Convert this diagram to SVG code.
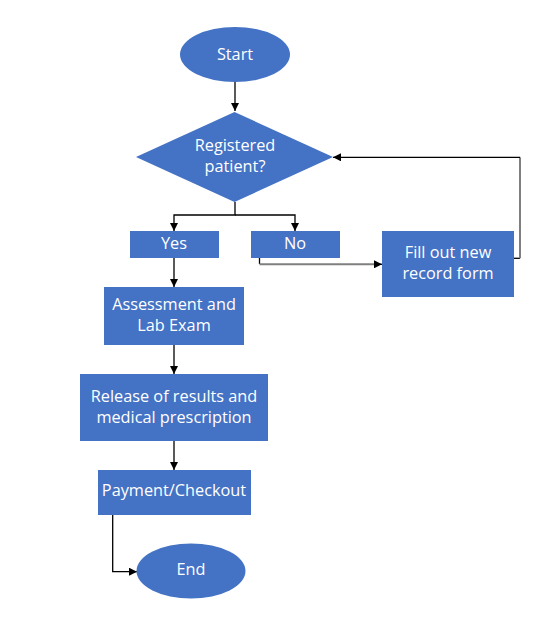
<svg xmlns="http://www.w3.org/2000/svg" width="554" height="638" viewBox="0 0 554 638">
<defs>
<style>
.n{fill:#4472C4;}
.t{fill:#fff;font-family:"Open Sans","Liberation Sans",Arial,sans-serif;font-size:16.3px;text-anchor:middle;}
.c{fill:none;stroke:#000;stroke-width:1.3;}
.g{fill:none;stroke:#7f7f7f;stroke-width:2;}
</style>
<marker id="ah" viewBox="0 0 10 10" refX="10" refY="5" markerWidth="8" markerHeight="8" markerUnits="userSpaceOnUse" orient="auto">
<path d="M0,0 L10,5 L0,10 Z" fill="#000"/>
</marker>
</defs>
<rect width="554" height="638" fill="#fff"/>
<g id="connectors">
<path class="c" d="M235,82 V111" marker-end="url(#ah)"/>
<path class="c" d="M235,202 V215 H174 V231" marker-end="url(#ah)"/>
<path class="c" d="M235,215 H295 V231" marker-end="url(#ah)"/>
<path class="c" d="M259.5,258 V264"/>
<path class="g" d="M259.5,264.3 H376"/>
<path class="c" d="M375,264.3 H382" marker-end="url(#ah)"/>
<path class="c" d="M514,258.3 H520"/>
<path class="g" d="M520,258.3 V157.3"/>
<path class="c" d="M520,157.3 H333" marker-end="url(#ah)"/>
<path class="c" d="M174,258 V287" marker-end="url(#ah)"/>
<path class="c" d="M174,345 V374" marker-end="url(#ah)"/>
<path class="c" d="M174,441 V470" marker-end="url(#ah)"/>
<path class="c" d="M112.7,515 V571.7 H137" marker-end="url(#ah)"/>
</g>
<g id="start"><ellipse class="n" cx="235" cy="54.5" rx="55" ry="27.5"/><text class="t" x="235" y="60">Start</text></g>
<g id="decision"><polygon class="n" points="234.5,112 333,157 234.5,202 136,157"/><text class="t" x="235" y="151">Registered</text><text class="t" x="235" y="172">patient?</text></g>
<g id="yes"><rect class="n" x="130" y="231" width="89" height="27"/><text class="t" x="174" y="249">Yes</text></g>
<g id="no"><rect class="n" x="251" y="231" width="89" height="27"/><text class="t" x="295" y="249">No</text></g>
<g id="fillout"><rect class="n" x="382" y="231" width="132" height="66"/><text class="t" x="448" y="258">Fill out new</text><text class="t" x="448" y="279">record form</text></g>
<g id="assessment"><rect class="n" x="104" y="287" width="140" height="58"/><text class="t" x="174" y="310">Assessment and</text><text class="t" x="174" y="331">Lab Exam</text></g>
<g id="release"><rect class="n" x="80" y="374" width="188" height="67"/><text class="t" x="174" y="402">Release of results and</text><text class="t" x="174" y="422.5">medical prescription</text></g>
<g id="payment"><rect class="n" x="98" y="470" width="153" height="45"/><text class="t" x="174" y="496">Payment/Checkout</text></g>
<g id="end"><ellipse class="n" cx="191" cy="571" rx="54.5" ry="27.5"/><text class="t" x="191" y="574.5">End</text></g>
</svg>
